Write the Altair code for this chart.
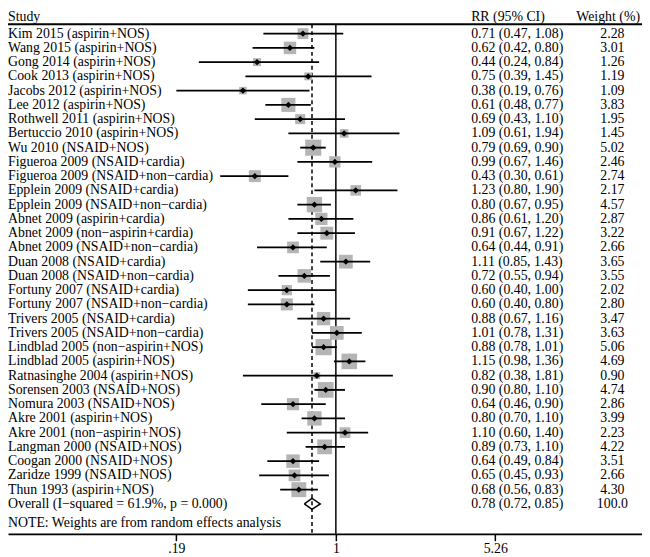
import math
import altair as alt
import pandas as pd

# ---------------- data ----------------
studies = [
    "Kim 2015 (aspirin+NOS)", "Wang 2015 (aspirin+NOS)", "Gong 2014 (aspirin+NOS)",
    "Cook 2013 (aspirin+NOS)", "Jacobs 2012 (aspirin+NOS)", "Lee 2012 (aspirin+NOS)",
    "Rothwell 2011 (aspirin+NOS)", "Bertuccio 2010 (aspirin+NOS)", "Wu 2010 (NSAID+NOS)",
    "Figueroa 2009 (NSAID+cardia)", "Figueroa 2009 (NSAID+non\u2212cardia)",
    "Epplein 2009 (NSAID+cardia)", "Epplein 2009 (NSAID+non\u2212cardia)",
    "Abnet 2009 (aspirin+cardia)", "Abnet 2009 (non\u2212aspirin+cardia)",
    "Abnet 2009 (NSAID+non\u2212cardia)", "Duan 2008 (NSAID+cardia)",
    "Duan 2008 (NSAID+non\u2212cardia)", "Fortuny 2007 (NSAID+cardia)",
    "Fortuny 2007 (NSAID+non\u2212cardia)", "Trivers 2005 (NSAID+cardia)",
    "Trivers 2005 (NSAID+non\u2212cardia)", "Lindblad 2005 (non\u2212aspirin+NOS)",
    "Lindblad 2005 (aspirin+NOS)", "Ratnasinghe 2004 (aspirin+NOS)",
    "Sorensen 2003 (NSAID+NOS)", "Nomura 2003 (NSAID+NOS)", "Akre 2001 (aspirin+NOS)",
    "Akre 2001 (non\u2212aspirin+NOS)", "Langman 2000 (NSAID+NOS)", "Coogan 2000 (NSAID+NOS)",
    "Zaridze 1999 (NSAID+NOS)", "Thun 1993 (aspirin+NOS)",
]
rr = [0.71, 0.62, 0.44, 0.75, 0.38, 0.61, 0.69, 1.09, 0.79, 0.99, 0.43, 1.23, 0.80,
      0.86, 0.91, 0.64, 1.11, 0.72, 0.60, 0.60, 0.88, 1.01, 0.88, 1.15, 0.82, 0.90,
      0.64, 0.80, 1.10, 0.89, 0.64, 0.65, 0.68]
lo = [0.47, 0.42, 0.24, 0.39, 0.19, 0.48, 0.43, 0.61, 0.69, 0.67, 0.30, 0.80, 0.67,
      0.61, 0.67, 0.44, 0.85, 0.55, 0.40, 0.40, 0.67, 0.78, 0.78, 0.98, 0.38, 0.80,
      0.46, 0.70, 0.60, 0.73, 0.49, 0.45, 0.56]
hi = [1.08, 0.80, 0.84, 1.45, 0.76, 0.77, 1.10, 1.94, 0.90, 1.46, 0.61, 1.90, 0.95,
      1.20, 1.22, 0.91, 1.43, 0.94, 1.00, 0.80, 1.16, 1.31, 1.01, 1.36, 1.81, 1.10,
      0.90, 1.10, 1.40, 1.10, 0.84, 0.93, 0.83]
weight = [2.28, 3.01, 1.26, 1.19, 1.09, 3.83, 1.95, 1.45, 5.02, 2.46, 2.74, 2.17, 4.57,
          2.87, 3.22, 2.66, 3.65, 3.55, 2.02, 2.80, 3.47, 3.63, 5.06, 4.69, 0.90, 4.74,
          2.86, 3.99, 2.23, 4.22, 3.51, 2.66, 4.30]

overall_label = "Overall  (I\u2212squared = 61.9%, p = 0.000)"
overall_rr, overall_lo, overall_hi = 0.78, 0.72, 0.85
overall_weight = "100.0"
note_text = "NOTE: Weights are from random effects analysis"
null_value = [1.0]
x_ticks = [0.19, 1, 5.26]
headers = ["Study", "RR (95% CI)", "Weight (%)"]

# ---------------- tables ----------------
n = len(studies)
df = pd.DataFrame({"study": studies, "rr": rr, "lo": lo, "hi": hi, "w": weight,
                   "row": list(range(n))})
df["rr_text"] = [f"{a:.2f} ({b:.2f}, {c:.2f})" for a, b, c in zip(rr, lo, hi)]
df["w_text"] = [f"{v:.2f}" for v in weight]
df["box"] = df["w"] * 53.0

ov_row = n
ov_df = pd.DataFrame({"study": [overall_label], "row": [ov_row],
                      "rr_text": [f"{overall_rr:.2f} ({overall_lo:.2f}, {overall_hi:.2f})"],
                      "w_text": [overall_weight]})
text_df = pd.concat([df[["study", "row", "rr_text", "w_text"]], ov_df], ignore_index=True)

half = 0.38
diamond = pd.DataFrame({
    "x": [overall_lo, overall_rr, overall_hi, overall_rr, overall_lo],
    "y": [ov_row, ov_row - half, ov_row, ov_row + half, ov_row],
    "o": [0, 1, 2, 3, 4],
})

# ---------------- layout ----------------
FONT = "Liberation Serif"
FS = 14.0
W, H = 642, 529
ROW0, STEP = 22.5, 14.43
y_dom = [-ROW0 / STEP, (H - ROW0) / STEP]
PX_PER_LN, X1 = 97.25, 332.0
x_dom = [math.exp(-X1 / PX_PER_LN), math.exp((W - X1) / PX_PER_LN)]
TOP = 13

xs = alt.Scale(type="log", domain=x_dom, nice=False)
ys = alt.Scale(domain=y_dom, reverse=True, nice=False, zero=False)
ax = alt.Axis(values=x_ticks, title=None, grid=False,
              labelExpr="datum.value < 1 ? substring(format(datum.value, '.2f'), 1) : format(datum.value, '~g')",
              domain=True, domainColor="black", domainWidth=1.8,
              ticks=True, tickColor="black", tickSize=7, tickWidth=1.5,
              labelFont=FONT, labelFontSize=FS, labelColor="black", labelPadding=1,
              labelFlush=False, labelOverlap=False)

X = lambda f: alt.X(f, scale=xs, axis=ax)
Y = lambda f: alt.Y(f, scale=ys, axis=None)

base = alt.Chart(df)

boxes = base.mark_point(shape="square", filled=True, color="#b4b4b4", opacity=1).encode(
    x=X("rr:Q"), y=Y("row:Q"),
    size=alt.Size("box:Q", scale=None, legend=None))
ci = base.mark_rule(color="black", strokeWidth=1.9).encode(
    x=X("lo:Q"), x2="hi:Q", y=Y("row:Q"))
pts = base.mark_point(shape="diamond", filled=True, color="black", size=42, opacity=1).encode(
    x=X("rr:Q"), y=Y("row:Q"))

null_line = alt.Chart(pd.DataFrame({"v": null_value})).mark_rule(
    color="black", strokeWidth=1.5).encode(x=X("v:Q"), y=alt.value(TOP), y2=alt.value(H))
ov_line = alt.Chart(pd.DataFrame({"v": [overall_rr]})).mark_rule(
    color="black", strokeWidth=1.5, strokeDash=[4, 3]).encode(
    x=X("v:Q"), y=alt.value(TOP), y2=alt.value(H))

dia = alt.Chart(diamond).mark_line(color="black", strokeWidth=1.5).encode(
    x=X("x:Q"), y=Y("y:Q"), order="o:Q")

txt = dict(font=FONT, fontSize=FS, color="black", baseline="middle")
lab = alt.Chart(text_df).mark_text(align="left", **txt).encode(
    x=alt.value(0), y=Y("row:Q"), text="study:N")
rrt = alt.Chart(text_df).mark_text(align="left", **txt).encode(
    x=alt.value(469), y=Y("row:Q"), text="rr_text:N")
wt = alt.Chart(text_df).mark_text(align="center", **txt).encode(
    x=alt.value(612), y=Y("row:Q"), text="w_text:N")

h1 = alt.Chart(pd.DataFrame({"h": [headers[0]]})).mark_text(align="left", **txt).encode(
    x=alt.value(0), y=alt.value(6), text="h:N")
h2 = alt.Chart(pd.DataFrame({"h": [headers[1]]})).mark_text(align="left", **txt).encode(
    x=alt.value(469), y=alt.value(6), text="h:N")
h3 = alt.Chart(pd.DataFrame({"h": [headers[2]]})).mark_text(align="right", **txt).encode(
    x=alt.value(640), y=alt.value(6), text="h:N")
hline = alt.Chart(pd.DataFrame({"a": [0]})).mark_rule(color="black", strokeWidth=1.8).encode(
    x=alt.value(0), x2=alt.value(W), y=alt.value(TOP))
note = alt.Chart(pd.DataFrame({"t": [note_text]})).mark_text(align="left", **txt).encode(
    x=alt.value(0), y=alt.value(518), text="t:N")

chart = alt.layer(
    null_line, ov_line, boxes, ci, pts, dia, lab, rrt, wt, h1, h2, h3, hline, note
).properties(
    width=W, height=H,
    padding={"left": 0, "top": 0, "right": 0, "bottom": 20},
    autosize=alt.AutoSizeParams(type="none"),
    background="white",
).configure_view(stroke=None)

chart.save("out.html", embed_options={"renderer": "svg", "actions": False})
